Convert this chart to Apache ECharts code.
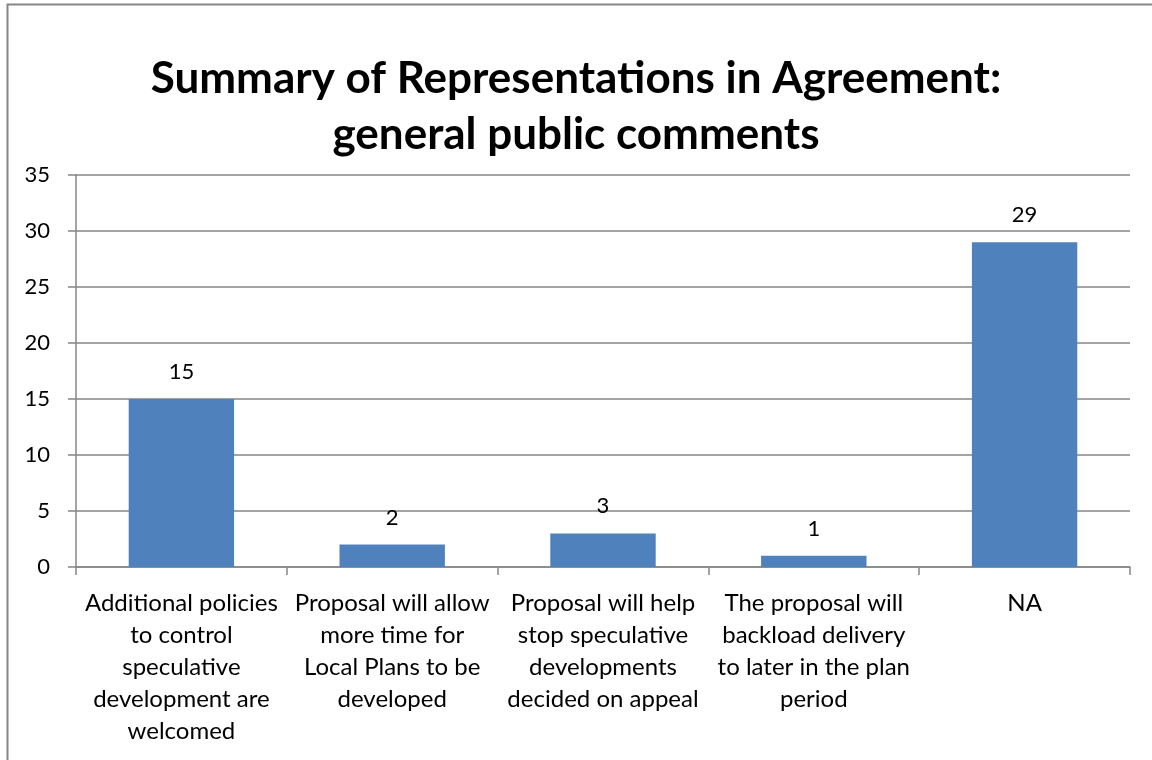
<!DOCTYPE html>
<html>
<head>
<meta charset="utf-8">
<script src="https://cdn.jsdelivr.net/npm/echarts@6/dist/echarts.min.js"></script>
<style>
html,body{margin:0;padding:0;background:#fff;}
#main{width:1152px;height:760px;}
</style>
</head>
<body>
<div id="main"></div>
<script>
const titleText = "Summary of Representations in Agreement:\ngeneral public comments";
const categories = [
  "Additional policies\nto control\nspeculative\ndevelopment are\nwelcomed",
  "Proposal will allow\nmore time for\nLocal Plans to be\ndeveloped",
  "Proposal will help\nstop speculative\ndevelopments\ndecided on appeal",
  "The proposal will\nbackload delivery\nto later in the plan\nperiod",
  "NA"
];
const values = [15, 2, 3, 1, 29];
const yMin = 0, yMax = 35, yInterval = 5;

const FONT = "Lato, 'Open Sans', 'Liberation Sans', sans-serif";
const chart = echarts.init(document.getElementById('main'), null, {renderer: 'canvas'});
chart.setOption({
  backgroundColor: '#ffffff',
  animation: false,
  graphic: [{
    type: 'rect',
    shape: {x: 7.5, y: 4.5, width: 1200, height: 800},
    style: {fill: 'none', stroke: '#868686', lineWidth: 2},
    silent: true
  }],
  title: {
    text: titleText,
    left: 'center',
    top: 46,
    textStyle: {fontFamily: FONT, fontSize: 44, fontWeight: 'bold', color: '#000', lineHeight: 56}
  },
  grid: {left: 76, right: 22, top: 175, bottom: 193, containLabel: false},
  xAxis: {
    type: 'category',
    data: categories,
    axisLine: {lineStyle: {color: '#868686', width: 1.5}},
    axisTick: {show: true, length: 8, lineStyle: {color: '#868686', width: 1.5}},
    axisLabel: {interval: 0, fontFamily: FONT, fontSize: 24, color: '#000', lineHeight: 32, margin: 20, align: 'center'}
  },
  yAxis: {
    type: 'value',
    min: yMin, max: yMax, interval: yInterval,
    axisLine: {show: true, lineStyle: {color: '#868686', width: 1.5}},
    axisTick: {show: true, length: 8, lineStyle: {color: '#868686', width: 1.5}},
    splitLine: {show: true, lineStyle: {color: '#868686', width: 1.5}},
    axisLabel: {fontFamily: FONT, fontSize: 22, color: '#000', margin: 26}
  },
  series: [{
    type: 'bar',
    data: values,
    barWidth: '50%',
    itemStyle: {color: '#4F81BD'},
    label: {show: true, position: 'top', distance: 16, fontFamily: FONT, fontSize: 22, color: '#000'}
  }]
});
</script>
</body>
</html>
